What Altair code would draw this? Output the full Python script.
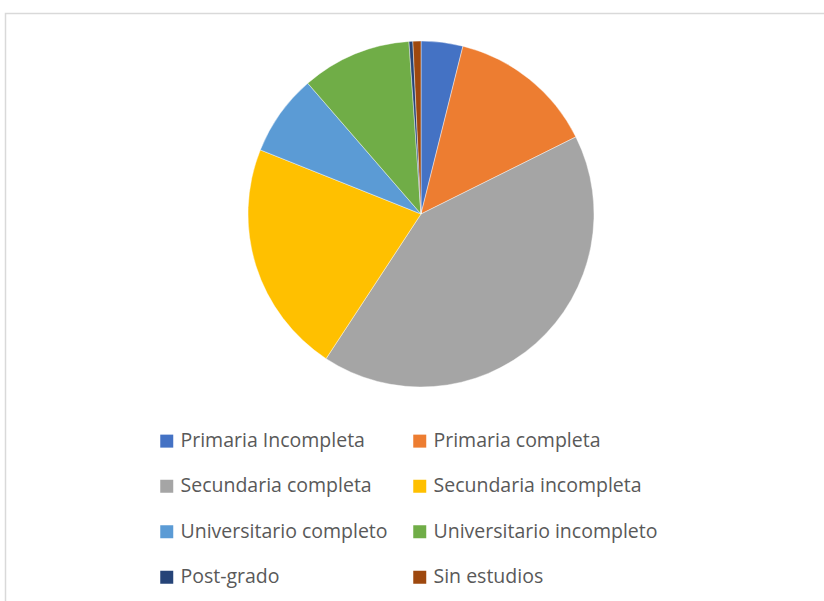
import altair as alt
import pandas as pd

categories = [
    "Primaria Incompleta",
    "Primaria completa",
    "Secundaria completa",
    "Secundaria incompleta",
    "Universitario completo",
    "Universitario incompleto",
    "Post-grado",
    "Sin estudios",
]
values = [3.9, 13.75, 41.6, 21.8, 7.6, 10.25, 0.36, 0.75]
colors = ["#4472C4", "#ED7D31", "#A5A5A5", "#FFC000", "#5B9BD5", "#70AD47", "#264478", "#9E480E"]

df = pd.DataFrame({"cat": categories, "val": values, "idx": list(range(len(categories)))})

W, H = 824, 601
CX, CY, R = 421, 214, 173

frame = alt.Chart(pd.DataFrame({"a": [0]})).mark_rect(
    fill="white", stroke="#d9d9d9", strokeWidth=1.5
).encode(x=alt.value(5.5), x2=alt.value(840), y=alt.value(13.5), y2=alt.value(620))

shadow = alt.Chart(pd.DataFrame({"a": [1]})).mark_arc(
    outerRadius=R + 3, color="#000000", opacity=0.15
).encode(theta=alt.Theta("a:Q"), x=alt.value(CX + 1), y=alt.value(CY + 4))

pie = alt.Chart(df).mark_arc(
    outerRadius=R, stroke="#ffffff", strokeWidth=0.6, strokeOpacity=0.7
).encode(
    theta=alt.Theta("val:Q", stack=True),
    order=alt.Order("idx:Q"),
    color=alt.Color(
        "cat:N",
        scale=alt.Scale(domain=categories, range=colors),
        sort=categories,
        legend=alt.Legend(
            title=None,
            orient="none",
            direction="horizontal",
            legendX=157,
            legendY=431,
            columns=2,
            symbolType="square",
            symbolSize=169,
            symbolStrokeWidth=0,
            labelFont="Open Sans",
            labelFontSize=19.5,
            labelColor="#595959",
            labelOffset=4,
            labelLimit=400,
            rowPadding=24.5,
            columnPadding=22,
        ),
    ),
    x=alt.value(CX),
    y=alt.value(CY),
)

chart = alt.layer(frame, shadow, pie).properties(
    width=W, height=H, padding=0, autosize=alt.AutoSizeParams(type="none")
).configure_view(stroke=None)

chart.save("out.html", embed_options={"renderer": "svg", "actions": False})
